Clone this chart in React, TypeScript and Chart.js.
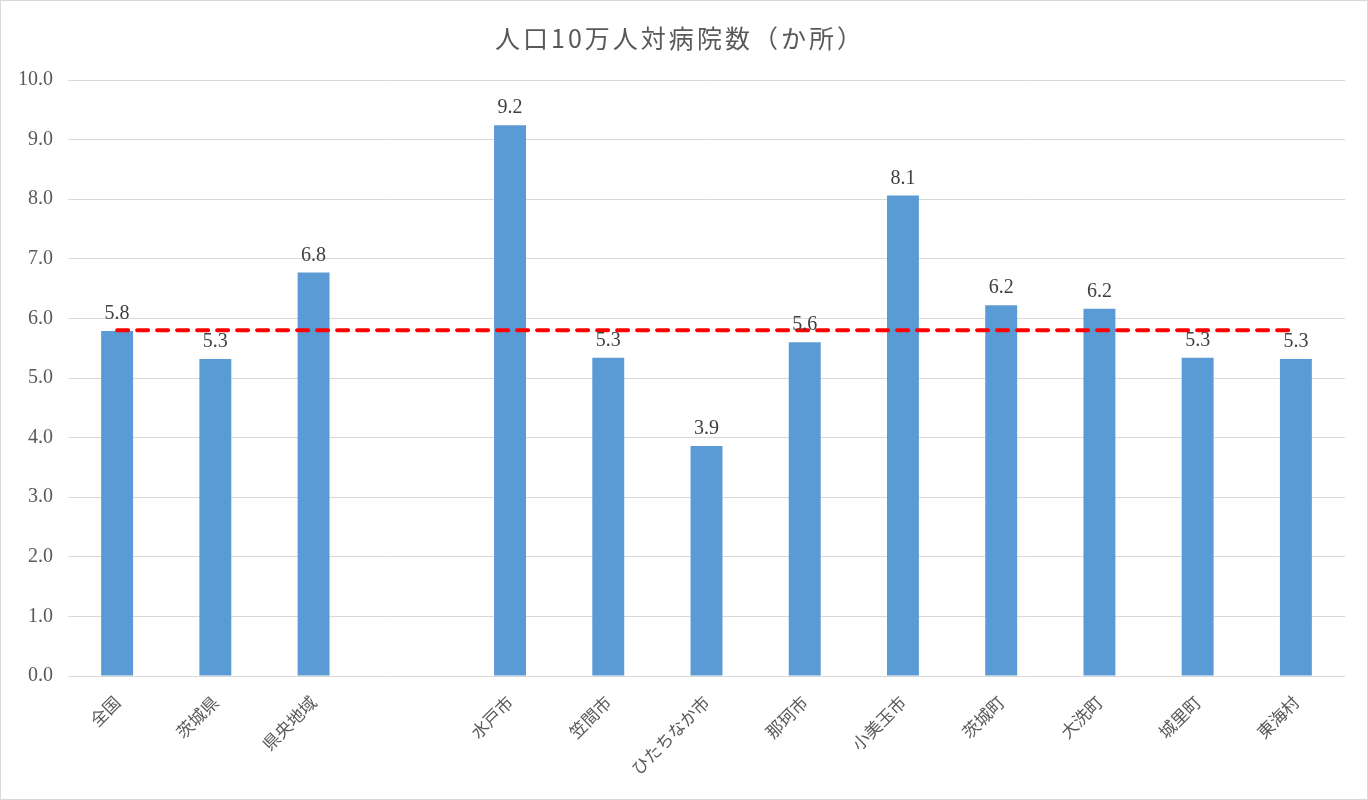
import React, { useEffect, useRef } from "react";
import { Chart, registerables } from "chart.js";

Chart.register(...registerables);

const categories = ["全国", "茨城県", "県央地域", "", "水戸市", "笠間市", "ひたちなか市", "那珂市", "小美玉市", "茨城町", "大洗町", "城里町", "東海村"];
const hospitalRates: (number | null)[] = [5.79, 5.32, 6.77, null, 9.24, 5.34, 3.86, 5.6, 8.06, 6.22, 6.16, 5.34, 5.32];
const nationalAverage = [5.8, 5.8, 5.8, 5.8, 5.8, 5.8, 5.8, 5.8, 5.8, 5.8, 5.8, 5.8, 5.8];
const yTicks = [0, 1, 2, 3, 4, 5, 6, 7, 8, 9, 10];
const titleText = "人口10万人対病院数（か所）";

const serif = "'Liberation Serif', 'DejaVu Serif', serif";
const sans = "'Noto Sans CJK JP', 'Noto Sans', sans-serif";

export default function App() {
  const ref = useRef<HTMLCanvasElement | null>(null);
  useEffect(() => {
    document.body.style.margin = "0";
    const canvas = ref.current;
    if (!canvas) return;
    const decor = {
      id: "decor",
      beforeDraw(chart: any) {
        const { ctx, width, height } = chart;
        ctx.save();
        ctx.fillStyle = "#ffffff";
        ctx.fillRect(0, 0, width, height);
        ctx.strokeStyle = "#d9d9d9";
        ctx.lineWidth = 1;
        ctx.strokeRect(0.5, 0.5, width - 1, height - 1);
        ctx.fillStyle = "#595959";
        ctx.font = `25px ${sans}`;
        (ctx as any).letterSpacing = "3px";
        ctx.textAlign = "center";
        ctx.textBaseline = "middle";
        ctx.fillText(titleText, 680, 38);
        ctx.restore();
      },
      afterDatasetsDraw(chart: any) {
        const { ctx } = chart;
        const meta = chart.getDatasetMeta(1);
        ctx.save();
        ctx.fillStyle = "#404040";
        ctx.font = `20px ${serif}`;
        ctx.textAlign = "center";
        ctx.textBaseline = "alphabetic";
        meta.data.forEach((el: any, i: number) => {
          const v = hospitalRates[i];
          if (v == null) return;
          ctx.fillText(v.toFixed(1), el.x, el.y - 12);
        });
        ctx.restore();
      },
    };
    const chart = new Chart(canvas, {
      type: "bar",
      data: {
        labels: categories,
        datasets: [
          {
            type: "line",
            label: "全国平均",
            data: nationalAverage,
            borderColor: "#ff0000",
            borderWidth: 4,
            borderDash: [11, 9],
            borderCapStyle: "round",
            pointRadius: 0,
            fill: false,
            order: 0,
          } as any,
          {
            type: "bar",
            label: "人口10万人対病院数",
            data: hospitalRates,
            backgroundColor: "#5b9bd5",
            barPercentage: 0.65,
            categoryPercentage: 0.5,
            order: 1,
          },
        ],
      },
      options: {
        animation: false,
        responsive: false,
        devicePixelRatio: 1,
        layout: { padding: { top: 80, right: 23, left: 0, bottom: 0 } },
        plugins: { legend: { display: false }, tooltip: { enabled: false }, title: { display: false } },
        scales: {
          x: {
            grid: { display: false },
            border: { display: false },
            ticks: {
              color: "#595959",
              font: { family: sans, size: 17 },
              maxRotation: 45,
              minRotation: 45,
              autoSkip: false,
              padding: 8,
            },
            afterFit(scale: any) {
              scale.height = 124;
            },
          },
          y: {
            min: 0,
            max: 10,
            afterBuildTicks(scale: any) {
              scale.ticks = yTicks.map((v) => ({ value: v }));
            },
            grid: { color: "#d9d9d9", lineWidth: 1, drawTicks: false },
            border: { display: false },
            ticks: {
              color: "#595959",
              font: { family: serif, size: 20 },
              padding: 15,
              callback: (v: any) => Number(v).toFixed(1),
            },
            afterFit(scale: any) {
              scale.width = 68;
            },
          },
        },
      },
      plugins: [decor],
    });
    return () => chart.destroy();
  }, []);
  return (
    <div style={{ position: "absolute", left: 0, top: 0, width: 1368, height: 800 }}>
      <canvas ref={ref} width={1368} height={800} style={{ width: 1368, height: 800, display: "block" }} />
    </div>
  );
}
